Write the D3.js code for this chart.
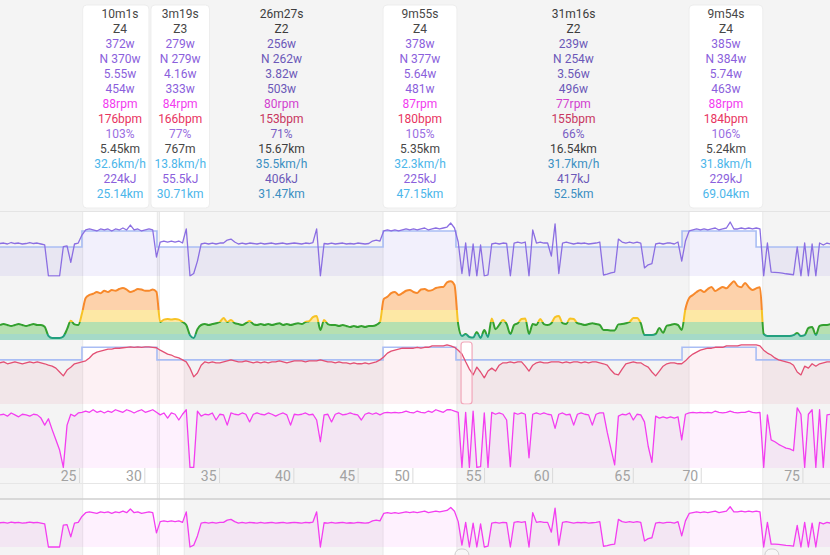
<!DOCTYPE html>
<html>
<head>
<meta charset="utf-8">
<script src="https://d3js.org/d3.v7.min.js"></script>
<style>
  html, body { margin: 0; padding: 0; background: #f4f4f4; }
  svg { display: block; font-family: Roboto, "Noto Sans", sans-serif; }
</style>
</head>
<body>
<div id="chart"></div>
<script>
// samples every half minute, first one at minute 0 of the visible window
var sampleStep = 0.5;

var powerW = [
  262, 266, 258, 270, 262, 266, 258, 262, 270, 262,
  266, 258, 250, 0, 0, 0, 0, 236, 242, 110,
  258, 266, 330, 371, 379, 371, 363, 379, 371, 379,
  363, 379, 371, 387, 371, 411, 371, 379, 363, 371,
  379, 371, 153, 274, 282, 274, 282, 274, 282, 266,
  380, 0, 20, 120, 258, 266, 258, 266, 258, 266,
  266, 290, 298, 274, 258, 266, 258, 266, 262, 258,
  266, 258, 262, 266, 258, 262, 266, 258, 262, 266,
  262, 258, 266, 262, 270, 380, 0, 262, 258, 266,
  258, 262, 266, 258, 262, 258, 266, 262, 258, 262,
  282, 290, 282, 363, 371, 363, 371, 363, 371, 379,
  371, 379, 371, 379, 387, 371, 379, 387, 379, 387,
  395, 427, 387, 274, 20, 266, 0, 258, 0, 250,
  0, 10, 258, 266, 258, 266, 262, 0, 266, 274,
  266, 274, 0, 371, 266, 274, 266, 266, 160, 420,
  20, 266, 274, 266, 258, 266, 262, 266, 258, 262,
  266, 274, 8, 15, 25, 32, 298, 274, 266, 274,
  266, 274, 266, 65, 90, 100, 258, 266, 258, 266,
  266, 258, 274, 120, 282, 363, 371, 379, 371, 379,
  371, 379, 387, 371, 379, 387, 435, 379, 379, 387,
  379, 387, 379, 387, 379, 0, 266, 32, 30, 28,
  24, 18, 14, 10, 234, 0, 266, 0, 258, 0,
  266, 250, 266, 258
];

// smoothed power as zone level (0.5 / 1.5 / 2.5 are the zone edges)
var zoneLevel = [
  1.25, 1.33, 1.25, 1.17, 1.25, 1.33, 1.25, 1.17, 1.25, 1.33,
  1.25, 1.25, 1.1, 0.35, 0.17, 0.17, 0.17, 0.3, 0.9, 1.6,
  1.3, 1.25, 2.2, 3.5, 3.75, 3.85, 4.0, 3.9, 4.1, 4.0,
  4.17, 4.1, 4.25, 4.33, 4.2, 4.0, 4.1, 4.25, 4.2, 4.1,
  4.1, 4.2, 4.0, 1.5, 1.7, 1.75, 1.7, 1.75, 1.7, 1.5,
  1.25, 0.4, 0.17, 0.9, 1.25, 1.33, 1.25, 1.33, 1.4, 1.5,
  1.83, 1.5, 1.67, 1.4, 1.33, 1.25, 1.4, 1.58, 1.33, 1.25,
  1.33, 1.25, 1.33, 1.25, 1.33, 1.4, 1.25, 1.33, 1.25, 1.33,
  1.4, 1.33, 1.5, 1.58, 1.9, 2.0, 0.83, 1.67, 1.33, 1.25,
  1.25, 1.17, 1.25, 1.17, 1.08, 1.17, 1.08, 1.17, 1.08, 1.17,
  1.17, 1.25, 1.5, 3.4, 3.6, 3.9, 4.0, 3.75, 3.9, 4.1,
  4.17, 4.0, 3.92, 4.2, 4.25, 4.1, 4.15, 4.33, 4.4, 4.42,
  4.8, 4.9, 4.58, 1.3, 0.33, 0.5, 0.25, 0.2, 0.67, 0.17,
  0.83, 0.25, 1.8, 0.9, 1.25, 1.67, 1.33, 0.5, 1.25, 1.4,
  1.75, 1.8, 0.5, 1.33, 1.25, 1.75, 1.33, 1.25, 1.4, 1.9,
  2.0, 1.4, 1.33, 1.8, 1.75, 1.4, 1.33, 1.25, 1.33, 1.4,
  1.33, 1.25, 0.83, 0.83, 0.8, 0.8, 1.3, 1.33, 1.4, 1.5,
  1.83, 1.83, 1.4, 0.42, 0.42, 0.42, 0.5, 1.0, 0.6, 1.2,
  1.25, 1.33, 1.25, 0.83, 2.6, 3.5, 3.75, 4.0, 4.17, 4.0,
  4.25, 4.42, 4.08, 4.25, 4.42, 4.3, 4.6, 4.9, 4.5, 4.4,
  4.75, 4.4, 4.17, 4.3, 4.4, 0.5, 0.33, 0.33, 0.33, 0.33,
  0.33, 0.33, 0.33, 0.4, 0.58, 0.33, 0.4, 1.0, 1.08, 0.42,
  1.17, 1.25, 1.25, 1.33
];
var zoneEdges = [0.5, 1.5, 2.5];

var heartRate = [
  151, 153, 149, 151, 153, 151, 149, 151, 153, 151,
  153, 151, 149, 146, 144, 140, 132, 124, 136, 142,
  149, 151, 153, 155, 161, 169, 173, 175, 177, 179,
  179, 181, 181, 182, 183, 184, 183, 184, 183, 184,
  184, 183, 182, 177, 173, 169, 167, 163, 161, 157,
  153, 140, 122, 130, 146, 153, 151, 153, 151, 151,
  153, 155, 157, 155, 153, 153, 155, 153, 151, 153,
  151, 153, 151, 153, 153, 155, 153, 151, 153, 155,
  155, 155, 153, 155, 155, 155, 157, 155, 153, 153,
  151, 153, 151, 151, 149, 151, 149, 149, 151, 149,
  151, 153, 157, 163, 171, 175, 177, 179, 181, 181,
  181, 181, 183, 181, 183, 183, 186, 186, 186, 186,
  188, 186, 183, 177, 169, 153, 138, 126, 142, 132,
  120, 134, 140, 134, 146, 151, 151, 153, 151, 153,
  153, 144, 134, 146, 151, 153, 151, 151, 153, 153,
  153, 151, 153, 151, 153, 153, 151, 153, 151, 153,
  153, 151, 149, 146, 136, 128, 126, 138, 149, 151,
  153, 151, 151, 146, 142, 132, 124, 134, 144, 149,
  151, 151, 149, 149, 155, 163, 169, 173, 177, 179,
  181, 181, 183, 183, 183, 186, 186, 186, 186, 188,
  188, 188, 188, 188, 186, 177, 171, 167, 161, 157,
  155, 153, 151, 146, 132, 126, 144, 140, 149, 144,
  149, 151, 153, 153
];

var cadence = [
  83, 84, 81, 86, 83, 80, 84, 83, 81, 84,
  83, 78, 67, 77, 60, 44, 28, 1, 67, 84,
  81, 86, 87, 89, 87, 91, 87, 89, 86, 89,
  87, 91, 89, 87, 91, 89, 86, 89, 91, 87,
  89, 91, 87, 83, 86, 78, 86, 84, 75, 84,
  91, 1, 1, 89, 81, 84, 83, 86, 75, 84,
  83, 67, 86, 84, 83, 86, 84, 72, 84, 86,
  84, 83, 86, 84, 81, 84, 86, 83, 67, 84,
  83, 84, 86, 83, 84, 75, 41, 83, 84, 72,
  84, 86, 83, 84, 86, 84, 83, 75, 84, 86,
  84, 86, 83, 86, 87, 86, 87, 86, 87, 89,
  87, 86, 89, 87, 86, 89, 87, 91, 89, 87,
  91, 91, 89, 87, 1, 87, 1, 89, 1, 2,
  86, 1, 87, 84, 86, 84, 75, 2, 86, 84,
  86, 84, 16, 84, 86, 84, 86, 84, 83, 62,
  84, 86, 83, 84, 67, 84, 86, 84, 83, 67,
  84, 86, 86, 56, 30, 5, 81, 84, 83, 86,
  75, 84, 83, 72, 34, 9, 81, 78, 80, 78,
  80, 78, 80, 44, 84, 86, 87, 86, 87, 86,
  87, 86, 89, 87, 86, 87, 89, 87, 86, 87,
  87, 89, 87, 86, 87, 1, 83, 44, 41, 37,
  34, 31, 30, 27, 94, 84, 1, 84, 91, 1,
  91, 1, 83, 84
];

// planned workout steps (minute the step starts)
var targetAt = [0, 11.0, 21.07, 51.41, 61.2, 91.54, 101.48];
var targetPower = [234, 363, 234, 363, 234, 363, 234];
var targetHr = [157, 183, 157, 183, 157, 183, 157];

// intervals
var intervalStart = [11.1, 21.41, 24.56, 51.41, 61.34, 92.48];
var intervalSecs = [601, 199, 1587, 595, 1876, 594];
var intervalZone = ['Z4', 'Z3', 'Z2', 'Z4', 'Z2', 'Z4'];
var avgPower = [372, 279, 256, 378, 239, 385];
var normPower = [370, 279, 262, 377, 254, 384];
var wPerKg = [5.55, 4.16, 3.82, 5.64, 3.56, 5.74];
var maxPower = [454, 333, 503, 481, 496, 463];
var avgCadence = [88, 84, 80, 87, 77, 88];
var avgHr = [176, 166, 153, 180, 155, 184];
var intensity = [103, 77, 71, 105, 66, 106];
var distanceText = ['5.45km', '767m', '15.67km', '5.35km', '16.54km', '5.24km'];
var avgSpeed = [32.6, 13.8, 35.5, 32.3, 31.7, 31.8];
var workKj = [224, 55.5, 406, 225, 417, 229];
var startKm = [25.14, 30.71, 31.47, 47.15, 52.5, 69.04];

// distance axis: km marks and the minute they were reached
var kmTicks = [25, 30, 35, 40, 45, 50, 55, 60, 65, 70, 75];
var kmTickMin = [10.6, 19.37, 29.4, 39.37, 48.0, 55.35, 64.97, 74.1, 84.93, 94.05, 107.7];

var hoverRange = [61.88, 63.36]; // pink marker in the hr strip
var navHandles = [62.0, 103.6];

var width = 830, height = 555;
var svg = d3.select('#chart').append('svg').attr('width', width).attr('height', height);
var defs = svg.append('defs');

var x = d3.scaleLinear().domain([0, 111.4]).range([0, width]);
var yPower = d3.scaleLinear().domain([0, 516]).range([276, 212]);
var yZone = d3.scaleLinear().domain([0, 5.33]).range([340, 276]);
var yHr = d3.scaleLinear().domain([66, 198]).range([404, 340]);
var yCad = d3.scaleLinear().domain([0, 100]).range([468, 404]);
var yNav = d3.scaleLinear().domain([0, 508]).range([547, 500]);

function t(i) { return i * sampleStep; }
function fmtDur(s) { return Math.floor(s / 60) + 'm' + (s % 60) + 's'; }

// background
svg.append('rect').attr('x', 0).attr('y', 0).attr('width', width).attr('height', height).attr('fill', '#f4f4f4');

var intervals = intervalStart.map(function (s, i) {
  return { i: i, start: s, end: s + intervalSecs[i] / 60, hi: intervalZone[i] !== 'Z2' };
});

// white columns for the hard intervals
intervals.filter(function (d) { return d.hi; }).forEach(function (d) {
  svg.append('rect').attr('x', x(d.start)).attr('y', 212).attr('width', x(d.end) - x(d.start)).attr('height', height - 212).attr('fill', '#ffffff');
  [x(d.start), x(d.end)].forEach(function (px) {
    svg.append('line').attr('x1', px).attr('x2', px).attr('y1', 212).attr('y2', height).attr('stroke', '#e8e8e8').attr('stroke-width', 1);
  });
});

svg.append('line').attr('x1', 0).attr('x2', width).attr('y1', 211.5).attr('y2', 211.5).attr('stroke', '#e4e4e4');

// clip strips
function strip(id, y0, y1) {
  defs.append('clipPath').attr('id', id).append('rect').attr('x', 0).attr('y', y0).attr('width', width).attr('height', y1 - y0);
}
strip('clipPower', 212, 276.5);
strip('clipZone', 276, 340.5);
strip('clipHr', 340, 404.5);
strip('clipCad', 404, 468.5);
strip('clipNav', 500, 548);

var stepTimes = targetAt.concat([x.domain()[1]]);

// power: planned step with fill, then actual power
var powerG = svg.append('g').attr('clip-path', 'url(#clipPower)');
var targetArea = d3.area().curve(d3.curveStepAfter).x(function (d, i) { return x(stepTimes[i]); }).y0(276).y1(function (d) { return yPower(d); });
var targetLine = d3.line().curve(d3.curveStepAfter).x(function (d, i) { return x(stepTimes[i]); }).y(function (d) { return yPower(d); });
var tp = targetPower.concat([targetPower[targetPower.length - 1]]);
powerG.append('path').attr('d', targetArea(tp)).attr('fill', '#6f5be0').attr('fill-opacity', 0.09);
powerG.append('path').attr('d', targetLine(tp)).attr('fill', 'none').attr('stroke', '#a9bdf4').attr('stroke-width', 1.6);
var powerLine = d3.line().x(function (d, i) { return x(t(i)); }).y(function (d) { return yPower(d); });
powerG.append('path').attr('d', powerLine(powerW)).attr('fill', 'none').attr('stroke', '#8b6ee2').attr('stroke-width', 1.3).attr('stroke-linejoin', 'round');

// zone strip: coloured bands under the smoothed line
var zoneG = svg.append('g').attr('clip-path', 'url(#clipZone)');
var zoneArea = d3.area().curve(d3.curveMonotoneX).x(function (d, i) { return x(t(i)); }).y0(340).y1(function (d) { return yZone(d); });
defs.append('clipPath').attr('id', 'zoneFill').append('path').attr('d', zoneArea(zoneLevel));
var bandTops = [yZone.domain()[1]].concat(zoneEdges.slice().reverse());
var bandBottoms = zoneEdges.slice().reverse().concat([0]);
var bandFill = ['#fdd2ab', '#fde8a5', '#b6e0b0', '#a5dac8'];
var bandLine = ['#f7892b', '#f7c325', '#33a02f', '#22a07f'];
var bandsG = zoneG.append('g').attr('clip-path', 'url(#zoneFill)');
bandTops.forEach(function (top, i) {
  bandsG.append('rect').attr('x', 0).attr('width', width).attr('y', yZone(top)).attr('height', yZone(bandBottoms[i]) - yZone(top)).attr('fill', bandFill[i]);
});
var grad = defs.append('linearGradient').attr('id', 'zoneGrad').attr('gradientUnits', 'userSpaceOnUse')
  .attr('x1', 0).attr('x2', 0).attr('y1', yZone.range()[1]).attr('y2', yZone.range()[0]);
var span = yZone.range()[0] - yZone.range()[1];
bandTops.forEach(function (top, i) {
  var o0 = (yZone(top) - yZone.range()[1]) / span;
  var o1 = (yZone(bandBottoms[i]) - yZone.range()[1]) / span;
  grad.append('stop').attr('offset', o0).attr('stop-color', bandLine[i]);
  grad.append('stop').attr('offset', o1).attr('stop-color', bandLine[i]);
});
var zoneLine = d3.line().curve(d3.curveMonotoneX).x(function (d, i) { return x(t(i)); }).y(function (d) { return yZone(d); });
zoneG.append('path').attr('d', zoneLine(zoneLevel)).attr('fill', 'none').attr('stroke', 'url(#zoneGrad)').attr('stroke-width', 2);

// heart rate
var hrG = svg.append('g').attr('clip-path', 'url(#clipHr)');
hrG.append('rect').attr('x', x(hoverRange[0])).attr('y', 342).attr('width', x(hoverRange[1]) - x(hoverRange[0])).attr('height', 62).attr('rx', 3)
  .attr('fill', '#ffffff');
var hrArea = d3.area().x(function (d, i) { return x(t(i)); }).y0(404).y1(function (d) { return yHr(d); });
hrG.append('path').attr('d', hrArea(heartRate)).attr('fill', '#e34f74').attr('fill-opacity', 0.08);
var th = targetHr.concat([targetHr[targetHr.length - 1]]);
var hrStep = d3.line().curve(d3.curveStepAfter).x(function (d, i) { return x(stepTimes[i]); }).y(function (d) { return yHr(d); });
hrG.append('path').attr('d', hrStep(th)).attr('fill', 'none').attr('stroke', '#a9bdf4').attr('stroke-width', 1.6);
var hrLine = d3.line().x(function (d, i) { return x(t(i)); }).y(function (d) { return yHr(d); });
hrG.append('path').attr('d', hrLine(heartRate)).attr('fill', 'none').attr('stroke', '#e34f74').attr('stroke-width', 1.3).attr('stroke-linejoin', 'round');
hrG.append('rect').attr('x', x(hoverRange[0])).attr('y', 342).attr('width', x(hoverRange[1]) - x(hoverRange[0])).attr('height', 62).attr('rx', 3)
  .attr('fill', 'none').attr('stroke', '#f2a7ba').attr('stroke-width', 1.2);

// cadence
var cadG = svg.append('g').attr('clip-path', 'url(#clipCad)');
var cadArea = d3.area().x(function (d, i) { return x(t(i)); }).y0(468).y1(function (d) { return yCad(d); });
cadG.append('path').attr('d', cadArea(cadence)).attr('fill', '#f33ef0').attr('fill-opacity', 0.07);
var cadLine = d3.line().x(function (d, i) { return x(t(i)); }).y(function (d) { return yCad(d); });
cadG.append('path').attr('d', cadLine(cadence)).attr('fill', 'none').attr('stroke', '#f33ef0').attr('stroke-width', 1.3).attr('stroke-linejoin', 'round');

// distance axis
var axis = d3.axisBottom(x).tickValues(kmTickMin).tickFormat(function (d, i) { return kmTicks[i]; }).tickSize(15).tickPadding(0);
var gAxis = svg.append('g').attr('transform', 'translate(0,468)').call(axis);
gAxis.select('.domain').remove();
gAxis.selectAll('.tick line').attr('stroke', '#dadada');
gAxis.selectAll('.tick text').attr('text-anchor', 'end').attr('x', -3).attr('y', 3).attr('dy', '0.71em')
  .attr('fill', '#a2a2a2').style('font-size', '14px').style('font-family', 'Roboto, sans-serif');
svg.append('line').attr('x1', 0).attr('x2', width).attr('y1', 483.5).attr('y2', 483.5).attr('stroke', '#e6e6e6');
svg.append('line').attr('x1', 0).attr('x2', width).attr('y1', 499).attr('y2', 499).attr('stroke', '#cfcfcf').attr('stroke-width', 1.5);

// overview strip (power again)
var navG = svg.append('g').attr('clip-path', 'url(#clipNav)');
var navArea = d3.area().x(function (d, i) { return x(t(i)); }).y0(547).y1(function (d) { return yNav(d); });
navG.append('path').attr('d', navArea(powerW)).attr('fill', '#f33ef0').attr('fill-opacity', 0.07);
var navLine = d3.line().x(function (d, i) { return x(t(i)); }).y(function (d) { return yNav(d); });
navG.append('path').attr('d', navLine(powerW)).attr('fill', 'none').attr('stroke', '#f33ef0').attr('stroke-width', 1.3).attr('stroke-linejoin', 'round');
navHandles.forEach(function (m) {
  svg.append('rect').attr('x', x(m) - 7).attr('y', 549).attr('width', 14).attr('height', 12).attr('rx', 6)
    .attr('fill', '#f7f7f7').attr('stroke', '#cfcfcf');
});

// interval stats
var hiColors = { dur: '#474747', pw: '#8b5fdc', cad: '#f23bef', hr: '#e8345f', pct: '#9a6ee2', spd: '#4cb6ea' };
var loColors = { dur: '#3d3d3d', pw: '#6b58b8', cad: '#d23fd0', hr: '#c8365f', pct: '#7a5fc4', spd: '#3b8fc2' };

function statRows(i) {
  return [
    [fmtDur(intervalSecs[i]), 'dur'],
    [intervalZone[i], 'dur'],
    [avgPower[i] + 'w', 'pw'],
    ['N ' + normPower[i] + 'w', 'pw'],
    [wPerKg[i].toFixed(2) + 'w', 'pw'],
    [maxPower[i] + 'w', 'pw'],
    [avgCadence[i] + 'rpm', 'cad'],
    [avgHr[i] + 'bpm', 'hr'],
    [intensity[i] + '%', 'pct'],
    [distanceText[i], 'dur'],
    [avgSpeed[i].toFixed(1) + 'km/h', 'spd'],
    [workKj[i] + 'kJ', 'pw'],
    [startKm[i] + 'km', 'spd']
  ];
}

// measure text to size the boxes
var measure = svg.append('text').style('font-size', '12px');
intervals.forEach(function (d) {
  d.rows = statRows(d.i);
  var w = 0;
  d.rows.forEach(function (r) { measure.text(r[0]); w = Math.max(w, measure.node().getComputedTextLength()); });
  d.cx = (x(d.start) + x(d.end)) / 2;
  var bw = Math.max(x(d.end) - x(d.start), w + 7);
  d.left = d.cx - bw / 2;
  d.right = d.cx + bw / 2;
});
measure.remove();

// push neighbouring boxes apart
var boxed = intervals.filter(function (d) { return d.hi; });
for (var k = 1; k < boxed.length; k++) {
  var prev = boxed[k - 1], cur = boxed[k];
  var ov = prev.right + 2 - cur.left;
  if (ov > 0) {
    prev.right -= ov / 2;
    cur.left += ov / 2;
    cur.right += ov / 2;
    cur.cx += ov / 2;
  }
}

boxed.forEach(function (d) {
  svg.append('rect').attr('x', d.left).attr('y', 5).attr('width', d.right - d.left).attr('height', 203).attr('rx', 4)
    .attr('fill', '#ffffff').attr('stroke', '#ededed');
});

intervals.forEach(function (d) {
  var colors = d.hi ? hiColors : loColors;
  svg.append('g').selectAll('text').data(d.rows).enter().append('text')
    .attr('x', d.cx).attr('y', function (r, j) { return 18 + j * 15; })
    .attr('text-anchor', 'middle').style('font-size', '12px')
    .attr('fill', function (r) { return colors[r[1]]; })
    .text(function (r) { return r[0]; });
});
</script>
</body>
</html>
